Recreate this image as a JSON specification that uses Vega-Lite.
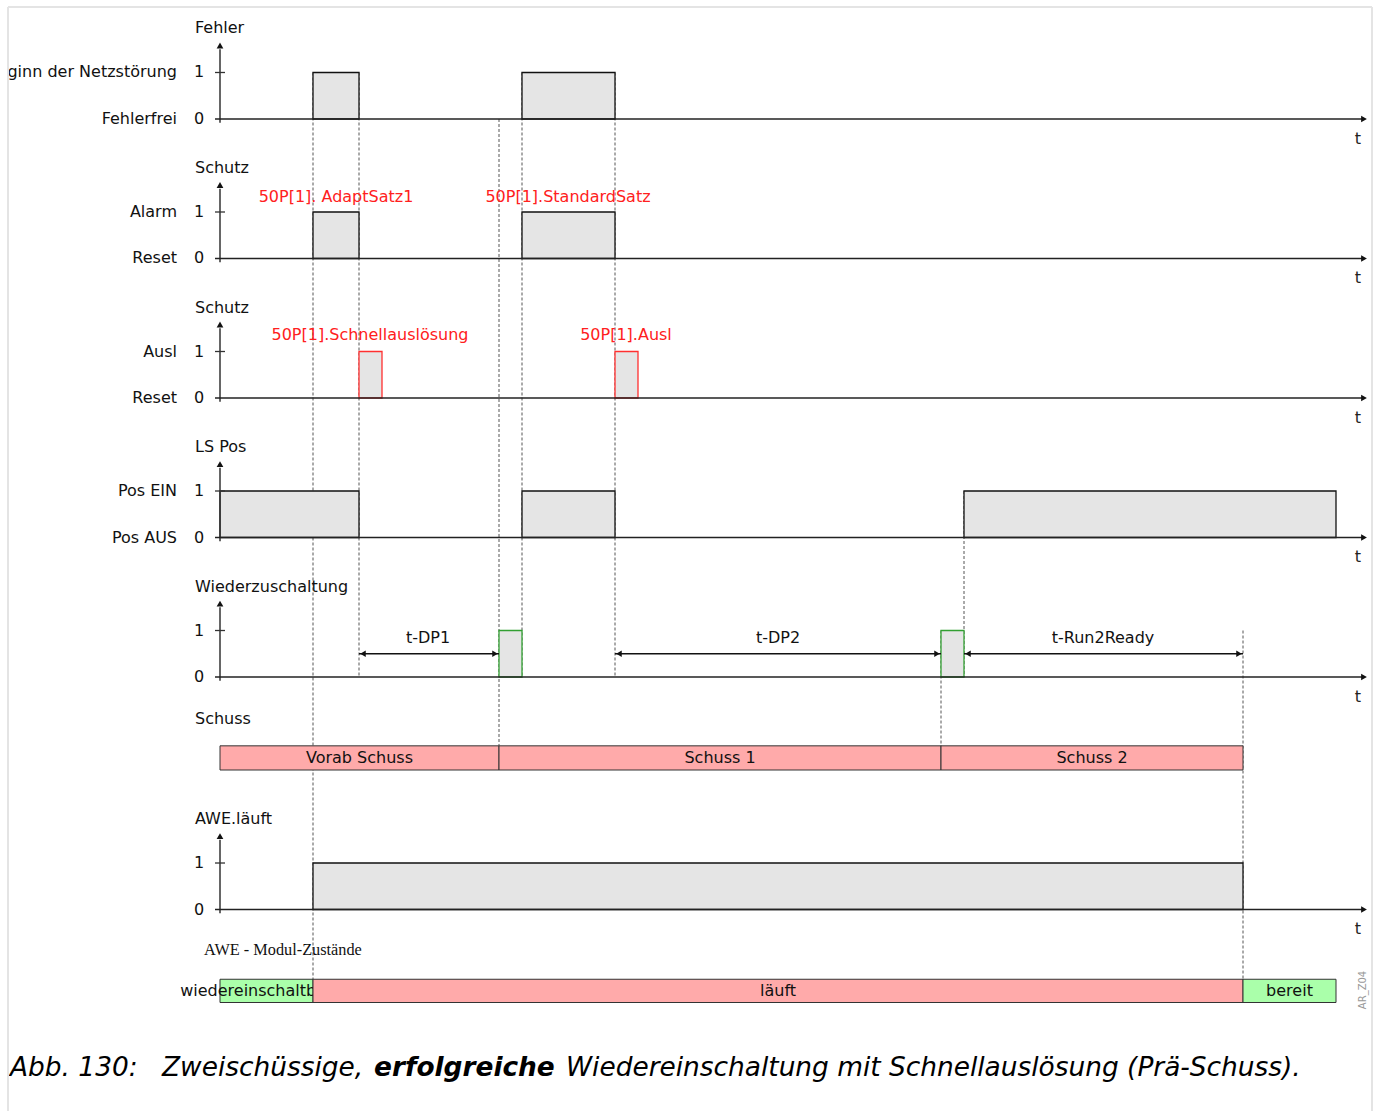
{
  "$schema": "https://vega.github.io/schema/vega-lite/v6.json",
  "width": 1381,
  "height": 1111,
  "padding": 0,
  "autosize": {"type": "fit", "contains": "padding"},
  "background": "white",
  "config": {"view": {"stroke": null}, "text": {"font": "DejaVu Sans", "fontSize": 16}},
  "datasets": {
    "frameV": [{"t": -212, "y": -2.41, "y2": 21.333}, {"t": 1152, "y": -2.41, "y2": 21.333}],
    "frameH": [{"t": -212, "t2": 1152, "y": -2.41}],
    "mask": [{"t": -220, "t2": -212, "y": -2.559, "y2": 21.333}],
    "dashes": [
      {"t": 93, "y": -1, "y2": 18.5},
      {"t": 139, "y": -1, "y2": 12},
      {"t": 279, "y": 0, "y2": 13.48},
      {"t": 302, "y": -1, "y2": 12},
      {"t": 395, "y": -1, "y2": 12},
      {"t": 721, "y": 11, "y2": 13.48},
      {"t": 744, "y": 8, "y2": 12},
      {"t": 1023, "y": 11, "y2": 18.5}
    ],
    "pulses": [
      {"t": 93, "t2": 139, "y": -1, "y2": 0, "kind": "n"},
      {"t": 302, "t2": 395, "y": -1, "y2": 0, "kind": "n"},
      {"t": 93, "t2": 139, "y": 2, "y2": 3, "kind": "n"},
      {"t": 302, "t2": 395, "y": 2, "y2": 3, "kind": "n"},
      {"t": 139, "t2": 162, "y": 5, "y2": 6, "kind": "trip"},
      {"t": 395, "t2": 418, "y": 5, "y2": 6, "kind": "trip"},
      {"t": 0, "t2": 139, "y": 8, "y2": 9, "kind": "n"},
      {"t": 302, "t2": 395, "y": 8, "y2": 9, "kind": "n"},
      {"t": 744, "t2": 1116, "y": 8, "y2": 9, "kind": "n"},
      {"t": 279, "t2": 302, "y": 11, "y2": 12, "kind": "close"},
      {"t": 721, "t2": 744, "y": 11, "y2": 12, "kind": "close"},
      {"t": 93, "t2": 1023, "y": 16, "y2": 17, "kind": "n"}
    ],
    "axesV": [
      {"t": 0, "y": 0.08, "y2": -1.5}, {"t": 0, "y": 3.08, "y2": 1.5}, {"t": 0, "y": 6.08, "y2": 4.5},
      {"t": 0, "y": 9.08, "y2": 7.5}, {"t": 0, "y": 12.08, "y2": 10.5}, {"t": 0, "y": 17.08, "y2": 15.5}
    ],
    "arrowUp": [
      {"t": 0, "y": -1.58}, {"t": 0, "y": 1.42}, {"t": 0, "y": 4.42},
      {"t": 0, "y": 7.42}, {"t": 0, "y": 10.42}, {"t": 0, "y": 15.42}
    ],
    "ticks": [
      {"t": -5, "t2": 5, "y": -1}, {"t": -5, "t2": 5, "y": 2}, {"t": -5, "t2": 5, "y": 5},
      {"t": -5, "t2": 5, "y": 8}, {"t": -5, "t2": 5, "y": 11}, {"t": -5, "t2": 5, "y": 16}
    ],
    "baselines": [
      {"t": -5, "t2": 1142, "y": 0}, {"t": -5, "t2": 1142, "y": 3}, {"t": -5, "t2": 1142, "y": 6},
      {"t": -5, "t2": 1142, "y": 9}, {"t": -5, "t2": 1142, "y": 12}, {"t": -5, "t2": 1142, "y": 17}
    ],
    "arrowRight": [
      {"t": 1144, "y": 0}, {"t": 1144, "y": 3}, {"t": 1144, "y": 6},
      {"t": 1144, "y": 9}, {"t": 1144, "y": 12}, {"t": 1144, "y": 17}
    ],
    "tLabels": [
      {"t": 1138, "y": 0.42, "label": "t"}, {"t": 1138, "y": 3.42, "label": "t"}, {"t": 1138, "y": 6.42, "label": "t"},
      {"t": 1138, "y": 9.42, "label": "t"}, {"t": 1138, "y": 12.42, "label": "t"}, {"t": 1138, "y": 17.42, "label": "t"}
    ],
    "stateLabels": [
      {"t": -43, "y": -1, "label": "Beginn der Netzstörung"}, {"t": -43, "y": 0, "label": "Fehlerfrei"},
      {"t": -43, "y": 2, "label": "Alarm"}, {"t": -43, "y": 3, "label": "Reset"},
      {"t": -43, "y": 5, "label": "Ausl"}, {"t": -43, "y": 6, "label": "Reset"},
      {"t": -43, "y": 8, "label": "Pos EIN"}, {"t": -43, "y": 9, "label": "Pos AUS"}
    ],
    "numLabels": [
      {"t": -21, "y": -1, "label": "1"}, {"t": -21, "y": 0, "label": "0"},
      {"t": -21, "y": 2, "label": "1"}, {"t": -21, "y": 3, "label": "0"},
      {"t": -21, "y": 5, "label": "1"}, {"t": -21, "y": 6, "label": "0"},
      {"t": -21, "y": 8, "label": "1"}, {"t": -21, "y": 9, "label": "0"},
      {"t": -21, "y": 11, "label": "1"}, {"t": -21, "y": 12, "label": "0"},
      {"t": -21, "y": 16, "label": "1"}, {"t": -21, "y": 17, "label": "0"}
    ],
    "titles": [
      {"t": -25, "y": -1.96, "label": "Fehler"}, {"t": -25, "y": 1.06, "label": "Schutz"},
      {"t": -25, "y": 4.06, "label": "Schutz"}, {"t": -25, "y": 7.06, "label": "LS Pos"},
      {"t": -25, "y": 10.06, "label": "Wiederzuschaltung"}, {"t": -25, "y": 12.9, "label": "Schuss"},
      {"t": -25, "y": 15.06, "label": "AWE.läuft"}
    ],
    "redLabels": [
      {"t": 116, "y": 1.68, "label": "50P[1]. AdaptSatz1"},
      {"t": 348, "y": 1.68, "label": "50P[1].StandardSatz"},
      {"t": 150, "y": 4.64, "label": "50P[1].Schnellauslösung"},
      {"t": 406, "y": 4.64, "label": "50P[1].Ausl"}
    ],
    "dims": [
      {"t": 139, "t2": 279, "y": 11.5, "tm": 208, "ym": 11.16, "label": "t-DP1"},
      {"t": 395, "t2": 721, "y": 11.5, "tm": 558, "ym": 11.16, "label": "t-DP2"},
      {"t": 744, "t2": 1023, "y": 11.5, "tm": 883, "ym": 11.16, "label": "t-Run2Ready"}
    ],
    "bars": [
      {"t": 0, "t2": 93, "y": 18.5, "y2": 19.0, "tm": 46.5, "ym": 18.76, "kind": "green", "grp": 1, "label": "wiedereinschaltbereit"},
      {"t": 0, "t2": 279, "y": 13.48, "y2": 14.0, "tm": 139.5, "ym": 13.75, "kind": "pink", "grp": 2, "label": "Vorab Schuss"},
      {"t": 279, "t2": 721, "y": 13.48, "y2": 14.0, "tm": 500, "ym": 13.75, "kind": "pink", "grp": 2, "label": "Schuss 1"},
      {"t": 721, "t2": 1023, "y": 13.48, "y2": 14.0, "tm": 872, "ym": 13.75, "kind": "pink", "grp": 2, "label": "Schuss 2"},
      {"t": 93, "t2": 1023, "y": 18.5, "y2": 19.0, "tm": 558, "ym": 18.76, "kind": "pink", "grp": 2, "label": "läuft"},
      {"t": 1023, "t2": 1116, "y": 18.5, "y2": 19.0, "tm": 1069.5, "ym": 18.76, "kind": "green", "grp": 2, "label": "bereit"}
    ]
  },
  "data": {"name": "frameV"},
  "encoding": {
    "x": {"field": "t", "type": "quantitative", "scale": {"domain": [-220, 1161], "nice": false, "zero": false}, "axis": null},
    "y": {"field": "y", "type": "quantitative", "scale": {"domain": [-2.559, 21.333], "nice": false, "zero": false, "reverse": true}, "axis": null}
  },
  "layer": [
    {"data": {"name": "dashes"}, "mark": {"type": "rule", "color": "#555555", "strokeWidth": 1, "strokeDash": [3, 2]}, "encoding": {"y2": {"field": "y2"}}},
    {"data": {"name": "pulses"}, "mark": {"type": "rect", "fill": "#e5e5e5", "strokeWidth": 1.3},
     "encoding": {"x2": {"field": "t2"}, "y2": {"field": "y2"},
       "stroke": {"field": "kind", "type": "nominal", "scale": {"domain": ["n", "trip", "close"], "range": ["#111111", "#ff3030", "#33a033"]}, "legend": null}}},
    {"data": {"name": "bars"}, "transform": [{"filter": "datum.grp == 1"}], "mark": {"type": "rect", "stroke": "#333333", "strokeWidth": 1},
     "encoding": {"x2": {"field": "t2"}, "y2": {"field": "y2"},
       "fill": {"field": "kind", "type": "nominal", "scale": {"domain": ["pink", "green"], "range": ["#ffaaaa", "#aaffaa"]}, "legend": null}}},
    {"data": {"name": "bars"}, "transform": [{"filter": "datum.grp == 1"}], "mark": {"type": "text", "align": "center", "baseline": "middle", "color": "#111111"},
     "encoding": {"x": {"field": "tm", "type": "quantitative"}, "y": {"field": "ym", "type": "quantitative"}, "text": {"field": "label"}}},
    {"data": {"name": "bars"}, "transform": [{"filter": "datum.grp == 2"}], "mark": {"type": "rect", "stroke": "#333333", "strokeWidth": 1},
     "encoding": {"x2": {"field": "t2"}, "y2": {"field": "y2"},
       "fill": {"field": "kind", "type": "nominal", "scale": {"domain": ["pink", "green"], "range": ["#ffaaaa", "#aaffaa"]}, "legend": null}}},
    {"data": {"name": "bars"}, "transform": [{"filter": "datum.grp == 2"}], "mark": {"type": "text", "align": "center", "baseline": "middle", "color": "#111111"},
     "encoding": {"x": {"field": "tm", "type": "quantitative"}, "y": {"field": "ym", "type": "quantitative"}, "text": {"field": "label"}}},
    {"data": {"name": "axesV"}, "mark": {"type": "rule", "color": "#333333", "strokeWidth": 1.5}, "encoding": {"y2": {"field": "y2"}}},
    {"data": {"name": "arrowUp"}, "mark": {"type": "point", "shape": "triangle-up", "filled": true, "color": "#111111", "size": 45, "opacity": 1}},
    {"data": {"name": "ticks"}, "mark": {"type": "rule", "color": "#333333", "strokeWidth": 1.3}, "encoding": {"x2": {"field": "t2"}}},
    {"data": {"name": "baselines"}, "mark": {"type": "rule", "color": "#222222", "strokeWidth": 1.5}, "encoding": {"x2": {"field": "t2"}}},
    {"data": {"name": "arrowRight"}, "mark": {"type": "point", "shape": "triangle-right", "filled": true, "color": "#111111", "size": 45, "opacity": 1}},
    {"data": {"name": "tLabels"}, "mark": {"type": "text", "align": "center", "baseline": "middle", "color": "#222222"}, "encoding": {"text": {"field": "label"}}},
    {"data": {"name": "stateLabels"}, "mark": {"type": "text", "align": "right", "baseline": "middle", "color": "#111111", "clip": true}, "encoding": {"text": {"field": "label"}}},
    {"data": {"name": "numLabels"}, "mark": {"type": "text", "align": "center", "baseline": "middle", "color": "#111111"}, "encoding": {"text": {"field": "label"}}},
    {"data": {"name": "titles"}, "mark": {"type": "text", "align": "left", "baseline": "middle", "color": "#111111"}, "encoding": {"text": {"field": "label"}}},
    {"data": {"name": "redLabels"}, "mark": {"type": "text", "align": "center", "baseline": "middle", "color": "#ff2020"}, "encoding": {"text": {"field": "label"}}},
    {"data": {"name": "dims"}, "mark": {"type": "rule", "color": "#111111", "strokeWidth": 1.3}, "encoding": {"x2": {"field": "t2"}}},
    {"data": {"name": "dims"}, "mark": {"type": "point", "shape": "triangle-left", "filled": true, "color": "#111111", "size": 40, "opacity": 1, "xOffset": 4}},
    {"data": {"name": "dims"}, "mark": {"type": "point", "shape": "triangle-right", "filled": true, "color": "#111111", "size": 40, "opacity": 1, "xOffset": -4}, "encoding": {"x": {"field": "t2", "type": "quantitative"}}},
    {"data": {"name": "dims"}, "mark": {"type": "text", "align": "center", "baseline": "middle", "color": "#111111"},
     "encoding": {"x": {"field": "tm", "type": "quantitative"}, "y": {"field": "ym", "type": "quantitative"}, "text": {"field": "label"}}},
    {"data": {"values": [{"t": -16, "y": 17.87, "label": "AWE - Modul-Zustände"}]}, "mark": {"type": "text", "align": "left", "baseline": "middle", "font": "Liberation Serif", "fontSize": 16.3, "color": "#111111"}, "encoding": {"text": {"field": "label"}}},
    {"data": {"values": [{"t": 1143, "y": 18.73, "label": "AR_Z04"}]}, "mark": {"type": "text", "align": "center", "baseline": "middle", "angle": 270, "fontSize": 10, "color": "#999999"}, "encoding": {"text": {"field": "label"}}},
    {"data": {"values": [
        {"t": -210, "y": 20.41, "label": "Abb. 130:"},
        {"t": -58, "y": 20.41, "label": "Zweischüssige,"},
        {"t": 346, "y": 20.41, "label": "Wiedereinschaltung mit Schnellauslösung (Prä-Schuss)."}
      ]}, "mark": {"type": "text", "align": "left", "baseline": "middle", "fontSize": 26.4, "fontStyle": "italic", "color": "#000000"}, "encoding": {"text": {"field": "label"}}},
    {"data": {"values": [{"t": 154, "y": 20.41, "label": "erfolgreiche"}]}, "mark": {"type": "text", "align": "left", "baseline": "middle", "fontSize": 26.4, "fontStyle": "italic", "fontWeight": "bold", "color": "#000000"}, "encoding": {"text": {"field": "label"}}},
    {"data": {"name": "mask"}, "mark": {"type": "rect", "fill": "white", "strokeWidth": 0}, "encoding": {"x2": {"field": "t2"}, "y2": {"field": "y2"}}},
    {"mark": {"type": "rule", "color": "#e4e4e4", "strokeWidth": 2, "clip": true}, "encoding": {"y2": {"field": "y2"}}},
    {"data": {"name": "frameH"}, "mark": {"type": "rule", "color": "#e4e4e4", "strokeWidth": 2, "clip": true}, "encoding": {"x2": {"field": "t2"}}}
  ]
}
